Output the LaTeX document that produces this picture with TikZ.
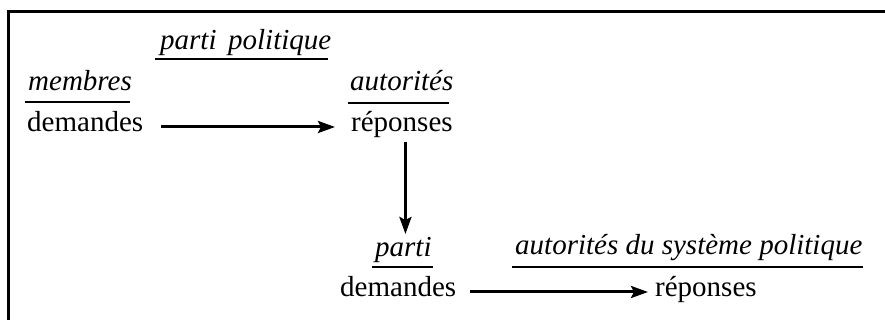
\documentclass[tikz,border=0pt]{standalone}
\usepackage{fontspec}
\setmainfont{Liberation Serif}
\usetikzlibrary{arrows.meta,calc}
\begin{document}
\begin{tikzpicture}[x=1pt,y=1pt,
  lbl/.style={inner sep=0pt, anchor=base west, font=\fontsize{29}{34}\selectfont},
  ital/.style={inner sep=0pt, anchor=base west, font=\fontsize{29}{34}\selectfont\itshape},
  arr/.style={line width=3pt, -{Stealth[length=17pt,width=12pt,inset=3pt]}},
  uline/.style={line width=1.2pt},
  frame/.style={line width=3pt}]
\useasboundingbox (0,0) rectangle (885,320);
\draw[frame] (8,0) -- (8,308) -- (885,308);
% texts
\node[ital] (pp) at (160,270) {parti\hspace{0.4em}politique};
\node[ital] (mem) at (28,229) {membres};
\node[ital] (aut) at (350,229) {autorités};
\node[lbl] (dem1) at (27,188) {demandes};
\node[lbl] (rep1) at (351,188) {réponses};
\node[ital] (par) at (375,63) {parti};
\node[ital] (aut2) at (515,65) {autorités du système politique};
\node[lbl] (dem2) at (340,23) {demandes};
\node[lbl] (rep2) at (655,23) {réponses};
% underlines
\draw[uline] (155,261) -- (328,261);
\draw[uline] (25,218) -- (130,218);
\draw[uline] (348,217) -- (449,217);
\draw[uline] (372,53) -- (433,53);
\draw[uline] (512,53) -- (863,53);
% arrows
\draw[arr] ($(dem1.base east)+(18,5)$) -- ($(rep1.base west)+(-16,5)$);
\coordinate (vs) at ($(rep1.base)+(3.5,-10)$);
\coordinate (ve) at ($(par.base)+(0,23)$);
\draw[arr] (vs) -- (vs |- ve);
\draw[arr] ($(dem2.base east)+(14,5)$) -- ($(rep2.base west)+(-7,5)$);
\end{tikzpicture}
\end{document}
